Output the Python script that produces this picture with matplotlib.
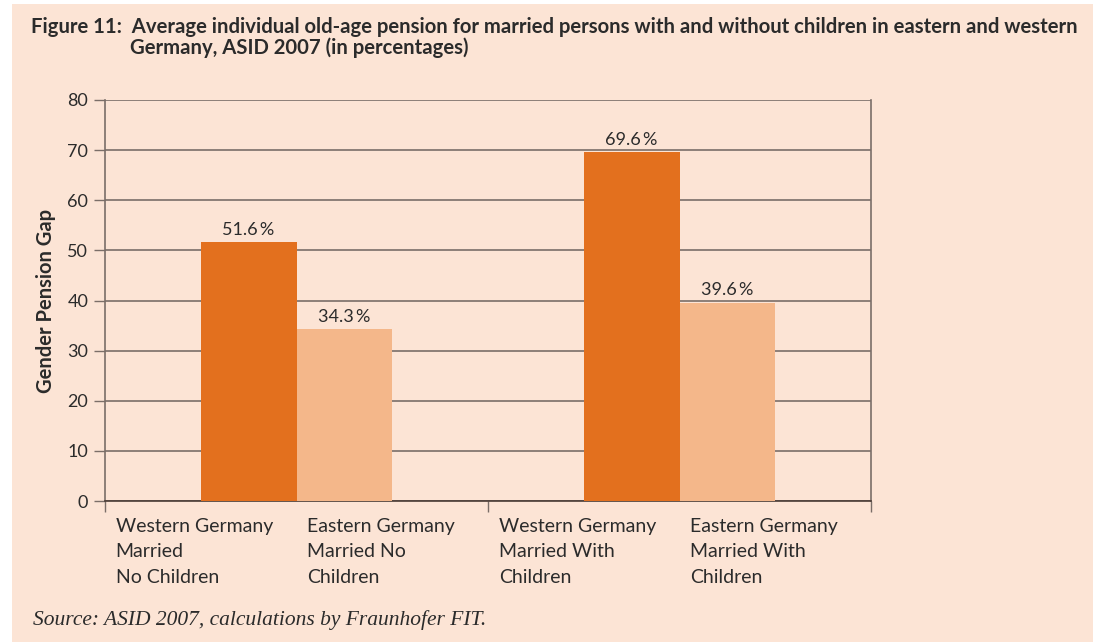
import matplotlib
matplotlib.use("Agg")
import matplotlib.pyplot as plt
from matplotlib.patches import Rectangle
import numpy as np

plt.rcParams["font.family"] = ["Lato", "DejaVu Sans"]

# data
groups = ["No Children", "With Children"]
west_vals = [51.6, 69.6]
east_vals = [34.3, 39.6]
cat_labels = ["Western Germany\nMarried\nNo Children",
              "Eastern Germany\nMarried No\nChildren",
              "Western Germany\nMarried With\nChildren",
              "Eastern Germany\nMarried With\nChildren"]
y_ticks = [0, 10, 20, 30, 40, 50, 60, 70, 80]

bg = "#FCE4D5"
dark = "#E3701E"
light = "#F4B78A"
grid_c = "#7A6E68"
text_c = "#2B2B2B"

fig = plt.figure(figsize=(10.93, 6.44), dpi=100)
fig.patch.set_facecolor("white")
fig.patches.append(Rectangle((12 / 1093, 2 / 644), 1081 / 1093, 638 / 644,
                             transform=fig.transFigure, facecolor=bg,
                             edgecolor="none", zorder=-10))

ax = fig.add_axes([105 / 1093, 143 / 644, 766 / 1093, 401 / 644])
ax.set_facecolor(bg)

x = np.arange(len(groups))
w = 0.25
b1 = ax.bar(x - w / 2, west_vals, w, color=dark, zorder=3)
b2 = ax.bar(x + w / 2, east_vals, w, color=light, zorder=3)

for bars, vals in ((b1, west_vals), (b2, east_vals)):
    for r, v in zip(bars, vals):
        ax.annotate(f"{v:.1f}\u2009%",
                    (r.get_x() + r.get_width() / 2, v),
                    xytext=(0, 3), textcoords="offset points",
                    ha="center", va="bottom", fontsize=13, color=text_c)

ax.set_xlim(-0.5, 1.5)
ax.set_ylim(0, 80)
ax.set_yticks(y_ticks)
ax.tick_params(axis="y", length=8, width=1, color=grid_c, labelsize=13,
               labelcolor=text_c, pad=4)
ax.grid(axis="y", color=grid_c, linewidth=1.2, zorder=0)
ax.set_axisbelow(True)

# x ticks at group boundaries, labels drawn as text
ax.set_xticks([-0.5, 0.5, 1.5])
ax.set_xticklabels([])
ax.tick_params(axis="x", length=8, width=1, color=grid_c)

ax.spines["top"].set_visible(False)
for s in ("left", "right", "bottom"):
    ax.spines[s].set_color(grid_c)
    ax.spines[s].set_linewidth(1.2)
ax.spines["bottom"].set_color("#4A3B35")

starts = [-0.5, 0.0, 0.5, 1.0]
for s, lab in zip(starts, cat_labels):
    ax.text(s + 0.028, -0.042, lab, transform=ax.get_xaxis_transform(),
            ha="left", va="top", fontsize=14, color=text_c, linespacing=1.6)

ax.set_ylabel("Gender Pension Gap", fontsize=14.5, fontweight="bold",
              color=text_c, labelpad=8)

fig.text(31 / 1093, 1 - 27 / 644,
         "Figure 11:  Average individual old-age pension for married persons with and without children in eastern and western",
         fontsize=14.6, fontweight="bold", color=text_c, ha="left", va="center")
fig.text(130 / 1093, 1 - 48 / 644, "Germany, ASID 2007 (in percentages)",
         fontsize=14.6, fontweight="bold", color=text_c, ha="left", va="center")

fig.text(33 / 1093, 1 - 620 / 644, "Source: ASID 2007, calculations by Fraunhofer FIT.",
         fontsize=15.5, style="italic", family=["Liberation Serif", "DejaVu Serif"],
         color=text_c, ha="left", va="center")

fig.savefig("out.png", dpi=100, facecolor=fig.get_facecolor())
